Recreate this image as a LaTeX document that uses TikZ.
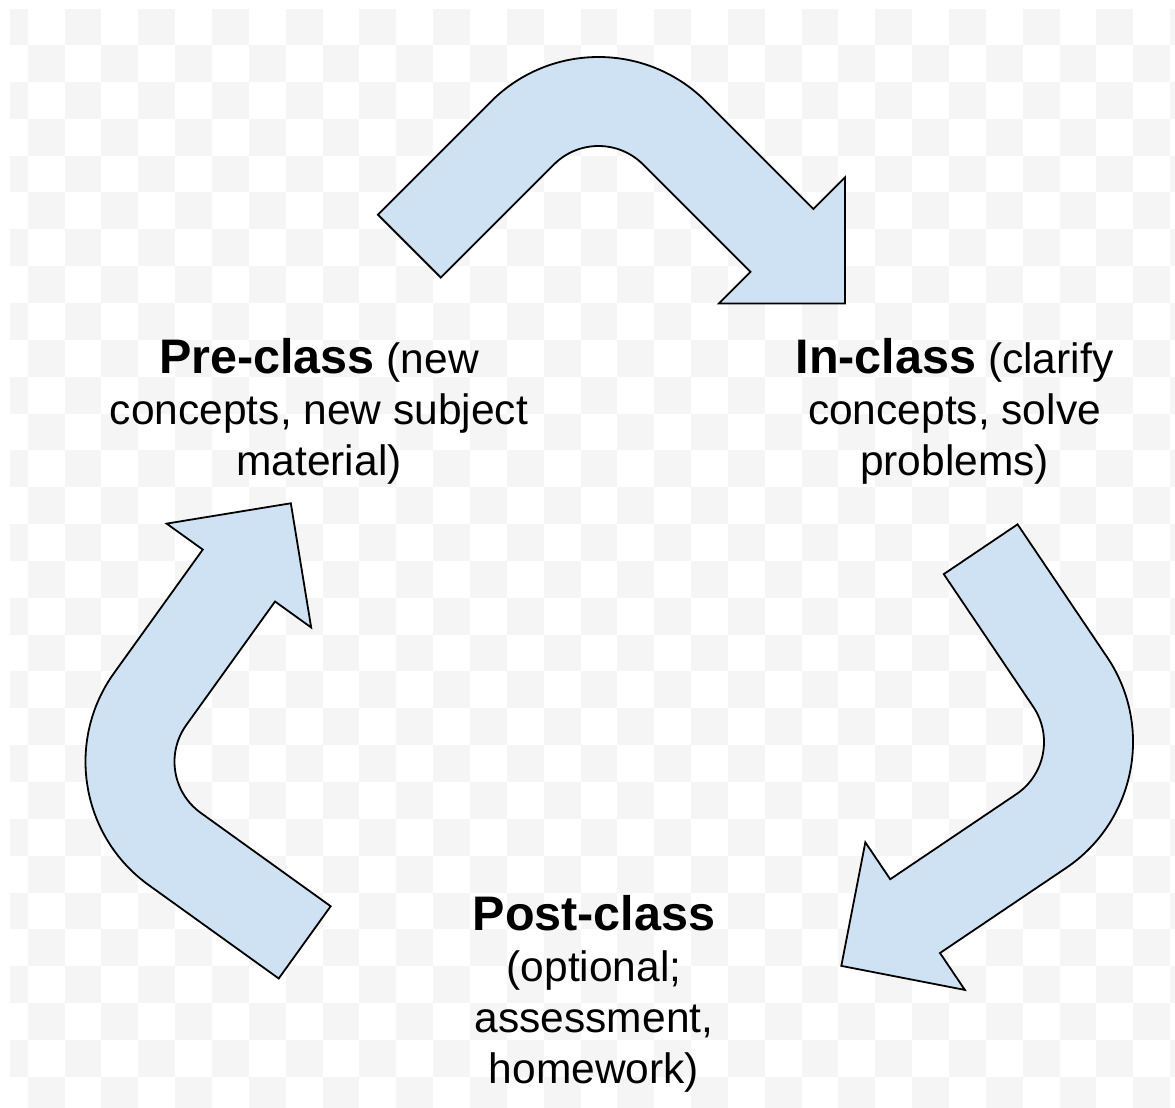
\documentclass[tikz,border=0pt]{standalone}
\usepackage{fontspec}
\setmainfont{Liberation Sans}

\definecolor{arrowblue}{RGB}{207,226,243}
\definecolor{checkgrey}{RGB}{245,245,245}

% bold phase name, set a little larger than the notes after it
\newcommand{\phasename}[1]{{\fontsize{48.5}{51}\selectfont\bfseries #1}}

\tikzset{
  % labels sit on the baseline of their last line
  phase/.style={align=center, inner sep=0pt, anchor=base,
    font=\fontsize{42.5}{51}\selectfont},
  % block arrow bent through a right angle, bend centre at the origin
  bentarrow/.pic={
    \draw[fill=arrowblue, draw=black, line width=1.8pt, line join=miter]
      (-152,-160) -- (-152,0) arc[start angle=180, end angle=90, radius=152]
      -- (152,152) -- (152,196.5) -- (241,107.5) -- (152,18.5) -- (152,63)
      -- (0,63) arc[start angle=90, end angle=180, radius=63]
      -- (-63,-160) -- cycle;
  }
}

\begin{document}
\begin{tikzpicture}[x=1pt, y=1pt]
  \useasboundingbox (0,0) rectangle (1175,-1108);

  % faint checkerboard backdrop
  \begin{scope}
    \clip (10,-10) rectangle (1175,-1108);
    \foreach \i in {0,...,32}
      \foreach \j in {0,...,29} {
        \pgfmathtruncatemacro{\odd}{mod(\i+\j,2)}
        \ifnum\odd=0
          \fill[checkgrey] ({27.75+36.85*(\i-1)},{-(45+36.85*(\j-1))})
            rectangle ++(36.85,-36.85);
        \fi
      }
  \end{scope}

  % the three arrows of the cycle
  \pic[rotate=-45] at (598.5,-209) {bentarrow};
  \pic[rotate=-146] at (981,-742) {bentarrow};
  \pic[rotate=54.3] at (237.5,-761.7) {bentarrow};

  % phase labels
  \node[phase] (pre) at (319,-475.3)
    {\phasename{Pre-class} (new\\concepts, new subject\\material)};
  \node[phase] (in) at (954.5,-475.3)
    {\phasename{In-class} (clarify\\concepts, solve\\problems)};
  \node[phase] (post) at (594,-1083)
    {\phasename{Post-class}\\(optional;\\assessment,\\homework)};
\end{tikzpicture}
\end{document}
